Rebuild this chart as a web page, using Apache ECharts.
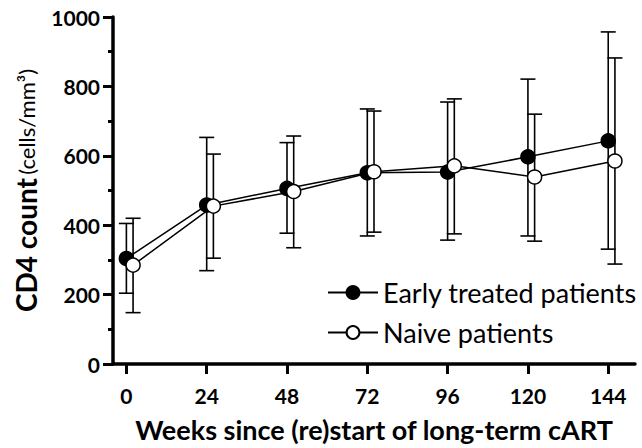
<!DOCTYPE html>
<html>
<head>
<meta charset="utf-8">
<script src="https://cdn.jsdelivr.net/npm/echarts@6/dist/echarts.min.js"></script>
<style>html,body{margin:0;padding:0;background:#fff}#c{width:642px;height:448px}#o{position:absolute;left:0;top:0;width:1px;height:1px;pointer-events:none}</style>
</head>
<body>
<div id="c"></div>
<div id="o"></div>
<script>
var weeks = [0, 24, 48, 72, 96, 120, 144];
var earlyMean = [304, 458, 506, 551, 553, 597, 643];
var earlyLow  = [204, 269, 377, 369, 357, 369, 331];
var earlyHigh = [405, 653, 638, 735, 755, 821, 957];
var naiveMean = [285, 455, 497, 554, 571, 539, 585];
var naiveLow  = [148, 305, 335, 380, 375, 354, 288];
var naiveHigh = [420, 605, 657, 729, 764, 720, 882];
var xTickLabels = [0, 24, 48, 72, 96, 120, 144];

var naiveShift = 2; // horizontal dodge in weeks
var FONT = 'Lato, "DejaVu Sans", sans-serif';

function pts(xs, ys, shift) { return xs.map(function (x, i) { return [x + shift, ys[i]]; }); }
function bars(xs, lo, hi, shift) { return xs.map(function (x, i) { return [x + shift, lo[i], hi[i]]; }); }

function errRender(params, api) {
  var x = api.value(0), lo = api.value(1), hi = api.value(2);
  var pLo = api.coord([x, lo]), pHi = api.coord([x, hi]);
  var w = 7.5;
  var st = { stroke: '#000', lineWidth: 1.6 };
  return {
    type: 'group',
    children: [
      { type: 'line', shape: { x1: pLo[0], y1: pLo[1], x2: pHi[0], y2: pHi[1] }, style: st },
      { type: 'line', shape: { x1: pLo[0] - w, y1: pLo[1], x2: pLo[0] + w, y2: pLo[1] }, style: st },
      { type: 'line', shape: { x1: pHi[0] - w, y1: pHi[1], x2: pHi[0] + w, y2: pHi[1] }, style: st }
    ]
  };
}

var chart = echarts.init(document.getElementById('c'), null, { renderer: 'svg' });
chart.setOption({
  animation: false,
  backgroundColor: '#fff',
  grid: { left: 113, right: 7, top: 17, bottom: 84 },
  legend: {
    left: 322, top: 274, orient: 'vertical', itemGap: 13,
    itemWidth: 50, itemHeight: 16,
    textStyle: { fontFamily: FONT, fontSize: 27, color: '#000' },
    data: ['Early treated patients', 'Naive patients']
  },
  xAxis: {
    type: 'value', min: -4, max: 152,
    name: 'Weeks since (re)start of long-term cART',
    nameLocation: 'middle', nameGap: 52,
    nameTextStyle: { fontFamily: FONT, fontSize: 27, fontWeight: 'bold', color: '#000' },
    axisLine: { show: true, onZero: false, lineStyle: { color: '#000', width: 3.5 } },
    axisTick: { show: true, length: 10, lineStyle: { color: '#000', width: 3 }, customValues: xTickLabels },
    axisLabel: { fontFamily: FONT, fontSize: 21, fontWeight: 'bold', color: '#000', margin: 21, customValues: xTickLabels },
    splitLine: { show: false }
  },
  yAxis: {
    type: 'value', min: 0, max: 1000, interval: 200,
    name: '{b|CD4 count} {r|(cells/mm³)}',
    nameLocation: 'middle', nameGap: 72, nameRotate: 90,
    nameTextStyle: {
      color: '#000',
      rich: {
        b: { fontFamily: FONT, fontSize: 28, fontWeight: 'bold', color: '#000' },
        r: { fontFamily: FONT, fontSize: 22, color: '#000' }
      }
    },
    axisLine: { show: true, onZero: false, lineStyle: { color: '#000', width: 3.5 } },
    axisTick: { show: true, length: 10, lineStyle: { color: '#000', width: 3 } },
    minorTick: { show: true, splitNumber: 2, length: 5, lineStyle: { color: '#000', width: 3 } },
    axisLabel: {
      fontFamily: FONT, fontSize: 21, fontWeight: 'bold', color: '#000', margin: 13,
      formatter: function (v) { return String(v); }
    },
    splitLine: { show: false }
  },
  series: [
    { name: 'errEarly', type: 'custom', renderItem: errRender, data: bars(weeks, earlyLow, earlyHigh, 0), z: 1, encode: { x: 0, y: [1, 2] } },
    { name: 'errNaive', type: 'custom', renderItem: errRender, data: bars(weeks, naiveLow, naiveHigh, naiveShift), z: 1, encode: { x: 0, y: [1, 2] } },
    {
      name: 'Early treated patients', type: 'line', data: pts(weeks, earlyMean, 0), z: 3,
      symbol: 'circle', symbolSize: 14,
      lineStyle: { color: '#000', width: 1.5 },
      itemStyle: { color: '#000', borderColor: '#000', borderWidth: 1.5 }
    },
    {
      name: 'Naive patients', type: 'line', data: pts(weeks, naiveMean, naiveShift), z: 4,
      symbol: 'circle', symbolSize: 14,
      lineStyle: { color: '#000', width: 1.5 },
      itemStyle: { color: '#fff', borderColor: '#000', borderWidth: 1.5 }
    }
  ]
});
var zr = chart.getZr();
zr.storage.getDisplayList(true);
zr.refreshImmediately();
document.getElementById('o').textContent = '';
</script>
</body>
</html>
